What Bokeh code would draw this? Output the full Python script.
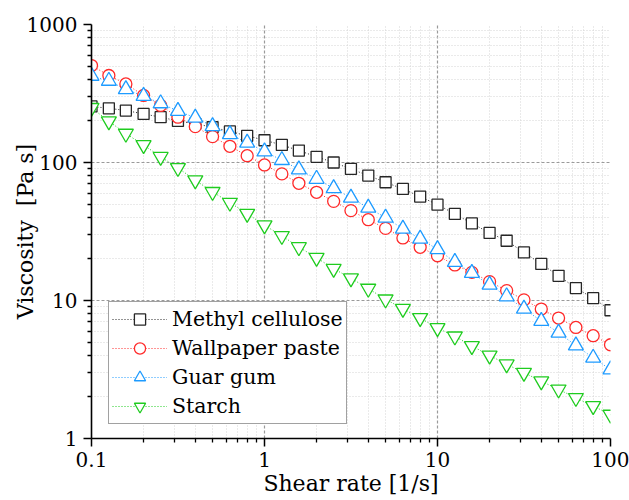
from bokeh.plotting import figure
from bokeh.models import FixedTicker, CustomJSTickFormatter, Legend, LegendItem
from bokeh.embed import file_html
from bokeh.resources import INLINE

# Shear rates (1/s), ten points per decade
shear_rate = [0.1, 0.126, 0.158, 0.2, 0.251, 0.316, 0.398, 0.501, 0.631, 0.794,
              1.0, 1.26, 1.58, 2.0, 2.51, 3.16, 3.98, 5.01, 6.31, 7.94,
              10.0, 12.6, 15.8, 20.0, 25.1, 31.6, 39.8, 50.1, 63.1, 79.4, 100.0]

# Viscosity (Pa s) for each sample
methyl_cellulose = [255, 247, 238, 225, 213, 200, 191, 180, 168, 156,
                    145, 134, 122, 110, 100, 89.8, 80.4, 71.9, 64.3, 56.6,
                    49.5, 42.4, 36.2, 30.9, 27.1, 22.3, 18.4, 15.1, 12.3, 10.4, 8.5]
wallpaper_paste = [504, 427, 371, 306, 259, 213, 182, 154, 131, 112,
                   96, 82.7, 70.7, 60.8, 52.3, 44.8, 38.5, 33.3, 28.4, 24.3,
                   21.1, 18.1, 16.0, 13.7, 11.8, 10.1, 8.67, 7.46, 6.38, 5.56, 4.78]
guar_gum = [424, 390, 339, 303, 268, 236, 211, 183, 160, 139,
            120, 104, 89, 76, 65, 55.5, 47, 39.8, 33.1, 28,
            23.5, 19, 15.8, 13.0, 10.7, 8.7, 7.1, 5.83, 4.72, 3.84, 3.16]
starch = [249, 199, 162, 134, 110, 91.4, 74.4, 61.3, 51.2, 42.6,
          35.1, 29.4, 24.4, 20.4, 17.0, 14.5, 12.2, 10.2, 8.72, 7.47,
          6.32, 5.5, 4.68, 4.0, 3.45, 3.0, 2.6, 2.27, 1.97, 1.72, 1.49]

series_names = ["Methyl cellulose", "Wallpaper paste", "Guar gum", "Starch"]
series_values = [methyl_cellulose, wallpaper_paste, guar_gum, starch]
series_colors = ["#262626", "#ff2a2a", "#1e9bff", "#1fcc1f"]
series_markers = ["square", "circle", "triangle", "inverted_triangle"]
series_sizes = [11, 12, 15, 15]

x_major = [0.1, 1, 10, 100]
y_major = [1, 10, 100, 1000]

x_title = "Shear rate [1/s]"
y_title = "Viscosity \u00a0[Pa s]"

FONT = "DejaVu Serif"


def minor_between(majors):
    out = []
    for m in majors[:-1]:
        out += [m * i for i in range(2, 10)]
    return out


p = figure(width=629, height=500, x_axis_type="log", y_axis_type="log",
           x_range=(0.1, 100), y_range=(1, 1000),
           output_backend="svg", toolbar_location=None,
           min_border_left=91, min_border_right=19,
           min_border_top=24, min_border_bottom=62)
p.outline_line_color = None
p.background_fill_color = "white"
p.border_fill_color = "white"

# axes
p.xaxis.ticker = FixedTicker(ticks=x_major, minor_ticks=minor_between(x_major))
p.yaxis.ticker = FixedTicker(ticks=y_major, minor_ticks=minor_between(y_major))
fmt_code = "return String(Number(tick.toPrecision(3)));"
p.xaxis.formatter = CustomJSTickFormatter(code=fmt_code)
p.yaxis.formatter = CustomJSTickFormatter(code=fmt_code)
for ax in (p.xaxis[0], p.yaxis[0]):
    ax.axis_line_color = "black"
    ax.axis_line_width = 1.6
    ax.major_tick_line_color = "black"
    ax.major_tick_line_width = 1.5
    ax.minor_tick_line_color = "black"
    ax.minor_tick_line_width = 1.3
    ax.major_tick_in = 0
    ax.major_tick_out = 8
    ax.minor_tick_in = 0
    ax.minor_tick_out = 4
    ax.major_label_text_font = FONT
    ax.major_label_text_font_size = "20px"
    ax.major_label_text_color = "black"
    ax.axis_label_text_font = FONT
    ax.axis_label_text_font_size = "22px"
    ax.axis_label_text_font_style = "normal"
    ax.axis_label_text_color = "black"
p.xaxis.axis_label = x_title
p.yaxis.axis_label = y_title
p.xaxis.major_label_standoff = 5
p.yaxis.major_label_standoff = 6
p.xaxis.axis_label_standoff = 1
p.yaxis.axis_label_standoff = -14

# grids: dashed at inner decades, dotted at minor positions
p.xgrid.ticker = FixedTicker(ticks=[1, 10], minor_ticks=minor_between(x_major))
p.ygrid.ticker = FixedTicker(ticks=[10, 100], minor_ticks=minor_between(y_major))
for g in (p.xgrid[0], p.ygrid[0]):
    g.grid_line_color = "#9a9a9a"
    g.grid_line_width = 1.2
    g.grid_line_dash = "3 2"
    g.minor_grid_line_color = "#d4d4d4"
    g.minor_grid_line_width = 1
    g.minor_grid_line_dash = "1 2"

# connecting dotted lines first, then markers on top
lines = []
for vals, col in zip(series_values, series_colors):
    lines.append(p.line(shear_rate, vals, line_color=col, line_width=1,
                        line_dash="1 2"))
marks = []
for vals, col, mk, sz in zip(series_values, series_colors, series_markers, series_sizes):
    marks.append(p.scatter(shear_rate, vals, marker=mk, size=sz,
                           line_color=col, line_width=1.3,
                           fill_color="white"))

items = [LegendItem(label=n, renderers=[l, m])
         for n, l, m in zip(series_names, lines, marks)]
legend = Legend(items=items, location=(17, 14),
                glyph_width=55, glyph_height=28, label_height=28,
                label_standoff=5, spacing=1, padding=3, margin=0,
                label_text_font=FONT, label_text_font_size="20.5px",
                label_text_color="black",
                border_line_color="#444444", border_line_width=1.5,
                background_fill_color="white", background_fill_alpha=1)
p.add_layout(legend, "center")

open("out.html", "w").write(file_html(p, INLINE))
